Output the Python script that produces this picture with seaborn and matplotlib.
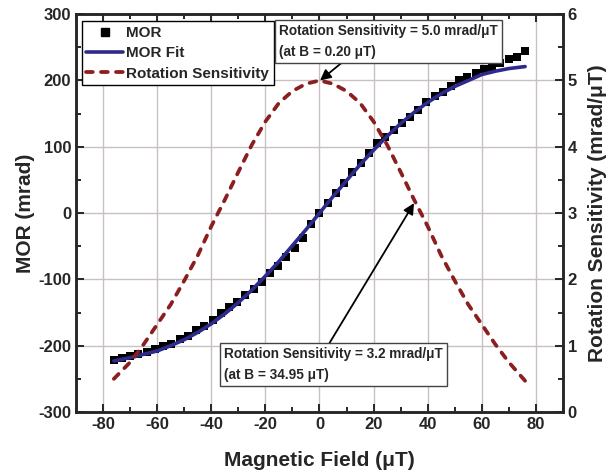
import numpy as np
import pandas as pd
import matplotlib
matplotlib.use("Agg")
import matplotlib.pyplot as plt
import seaborn as sns
from matplotlib.ticker import MultipleLocator
from matplotlib.lines import Line2D

# ---- data ----
field = [-76.0, -73.0, -69.9, -66.9, -63.8, -60.8, -57.8, -54.7, -51.7, -48.6,
         -45.6, -42.6, -39.5, -36.5, -33.4, -30.4, -27.4, -24.3, -21.3, -18.2,
         -15.2, -12.2, -9.1, -6.1, -3.0, 0.0, 3.0, 6.1, 9.1, 12.2,
         15.2, 18.2, 21.3, 24.3, 27.4, 30.4, 33.4, 36.5, 39.5, 42.6,
         45.6, 48.6, 51.7, 54.7, 57.8, 60.8, 63.8, 66.9, 69.9, 73.0, 76.0]
mor = [-221, -219, -216, -213, -209, -205, -201, -197, -190, -185,
       -177, -170, -161, -151, -142, -134, -124, -114, -104, -91,
       -80, -66, -52, -37, -17, 0, 15, 30, 46, 62,
       76, 91, 105, 115, 126, 136, 145, 156, 167, 176,
       183, 191, 200, 206, 212, 217, 221, 227, 232, 236, 244]

fit_field = [-76, -70, -65, -60, -55, -50, -45, -40, -35, -30, -25, -20, -15, -10, -5, 0,
             5, 10, 15, 20, 25, 30, 35, 40, 45, 50, 55, 60, 65, 70, 76]
mor_fit = [-223, -218, -213, -208, -200, -191, -180, -167, -152, -135, -116, -95, -73, -49, -25, 0,
           25, 49, 73, 95, 116, 135, 152, 167, 180, 191, 200, 209, 214, 218, 221]
sens = [0.5, 0.75, 1.02, 1.32, 1.62, 1.98, 2.36, 2.8, 3.2, 3.62, 4.03, 4.38, 4.66, 4.84, 4.95, 5.0,
        4.95, 4.84, 4.66, 4.38, 4.03, 3.62, 3.2, 2.8, 2.36, 1.98, 1.62, 1.32, 1.02, 0.75, 0.47]

df = pd.DataFrame({"B": field, "MOR": mor})
fit_df = pd.DataFrame({"B": fit_field, "Fit": mor_fit, "Sens": sens})

sns.set_style("ticks")
plt.rcParams["font.family"] = ["Liberation Sans", "DejaVu Sans"]
plt.rcParams["font.weight"] = "bold"
plt.rcParams["axes.unicode_minus"] = False

fit_color = "#2d2a8c"
sens_color = "#8b1e1e"
grid_color = "#c9c1c1"
sens_dash = (0, (1.8, 2.2))

fig = plt.figure(figsize=(6.06, 4.73), dpi=100)
ax = fig.add_axes([0.1254, 0.129, 0.8036, 0.841])
ax2 = ax.twinx()

sns.scatterplot(data=df, x="B", y="MOR", ax=ax, marker="s", s=40, color="black",
                edgecolor="black", linewidth=0, zorder=3, legend=False)
sns.lineplot(data=fit_df, x="B", y="Fit", ax=ax, color=fit_color, lw=2.6, zorder=4,
             legend=False)
sns.lineplot(data=fit_df, x="B", y="Sens", ax=ax2, color=sens_color, lw=2.7,
             legend=False)
ax2.lines[0].set_linestyle(sens_dash)
ax2.lines[0].set_dash_capstyle("round")

ax.set_xlim(-90, 90)
ax.set_ylim(-300, 300)
ax2.set_ylim(0, 6)

ax.xaxis.set_major_locator(MultipleLocator(20))
ax.xaxis.set_minor_locator(MultipleLocator(10))
ax.yaxis.set_major_locator(MultipleLocator(100))
ax.yaxis.set_minor_locator(MultipleLocator(50))
ax2.yaxis.set_major_locator(MultipleLocator(1))
ax2.yaxis.set_minor_locator(MultipleLocator(0.5))

ax.grid(True, which="major", color=grid_color, lw=1)
ax.set_axisbelow(True)

for a in (ax, ax2):
    for sp in a.spines.values():
        sp.set_linewidth(1.8)
        sp.set_visible(True)
ax.tick_params(which="both", direction="in", top=True, labelsize=12, width=1.4)
ax.tick_params(which="major", length=6)
ax.tick_params(which="minor", length=3.5)
ax2.tick_params(which="both", direction="in", labelsize=12, width=1.4)
ax2.tick_params(which="major", length=6)
ax2.tick_params(which="minor", length=3.5)
for lab in ax.get_xticklabels() + ax.get_yticklabels() + ax2.get_yticklabels():
    lab.set_fontweight("bold")

ax.set_xlabel("Magnetic Field (μT)", fontsize=15, fontweight="bold", labelpad=14)
ax.set_ylabel("MOR (mrad)", fontsize=15, fontweight="bold", labelpad=2)
ax2.set_ylabel("Rotation Sensitivity (mrad/μT)", fontsize=15, fontweight="bold", labelpad=8)

handles = [
    Line2D([], [], marker="s", color="black", ls="none", markersize=6),
    Line2D([], [], color=fit_color, lw=2.6),
    Line2D([], [], color=sens_color, lw=2.7, ls=sens_dash, dash_capstyle="round"),
]
leg = ax2.legend(handles, ["MOR", "MOR Fit", "Rotation Sensitivity"],
                 loc="upper left", bbox_to_anchor=(0.012, 0.982), fancybox=False,
                 framealpha=1, edgecolor="black", prop=dict(size=11, weight="bold"),
                 handlelength=2.4, handletextpad=0.2, labelspacing=0.42,
                 borderpad=0.3, borderaxespad=0)
leg.get_frame().set_linewidth(1.0)

box = dict(boxstyle="square,pad=0.3", fc="white", ec="#444444", lw=1)
ax2.text(-15.0, 5.85, "Rotation Sensitivity = 5.0 mrad/μT\n(at B = 0.20 μT)",
         ha="left", va="top", fontsize=9.8, fontweight="bold", bbox=box,
         linespacing=1.6, zorder=6)
ax2.text(-35.2, 0.98, "Rotation Sensitivity = 3.2 mrad/μT\n(at B = 34.95 μT)",
         ha="left", va="top", fontsize=9.8, fontweight="bold", bbox=box,
         linespacing=1.6, zorder=6)

arrow = dict(arrowstyle="-|>", color="black", lw=1.3, mutation_scale=16,
             shrinkA=0, shrinkB=0)
ax2.annotate("", xy=(0.2, 5.0), xytext=(9.2, 5.3), arrowprops=arrow)
ax2.annotate("", xy=(34.95, 3.15), xytext=(3.7, 1.04), arrowprops=arrow)

fig.savefig("out.png", dpi=100)
